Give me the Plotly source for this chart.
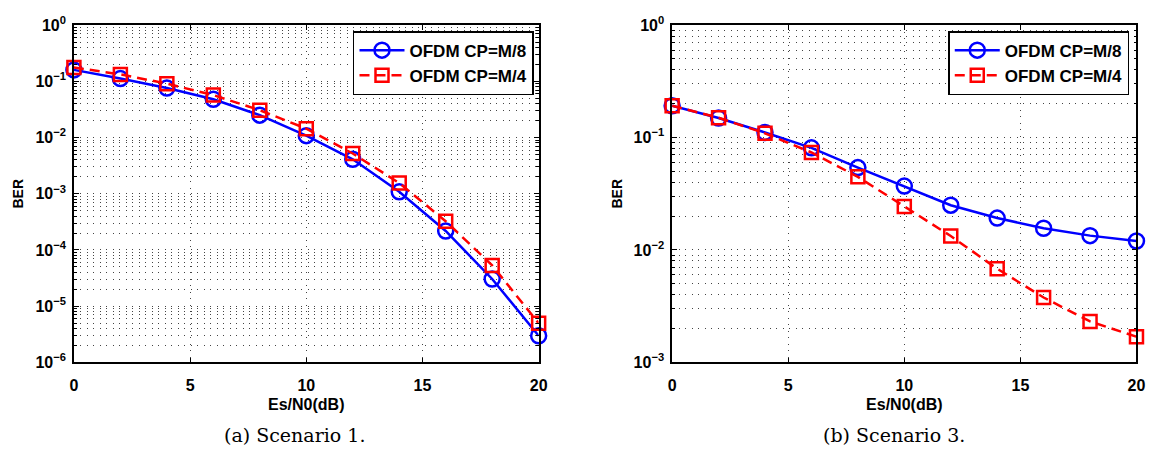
import plotly.graph_objects as go

# ---------------- data ----------------
snr_db = [0, 2, 4, 6, 8, 10, 12, 14, 16, 18, 20]

# (a) Scenario 1
s1_cp_m8 = [0.16, 0.112, 0.076, 0.048, 0.025, 0.0108, 0.0041, 0.00108, 2.17e-4, 3.04e-5, 2.97e-6]
s1_cp_m4 = [0.177, 0.133, 0.091, 0.057, 0.0306, 0.0144, 0.0052, 0.00155, 3.24e-4, 5.3e-5, 4.97e-6]

# (b) Scenario 3
s3_cp_m8 = [0.192, 0.149, 0.111, 0.081, 0.054, 0.037, 0.025, 0.0192, 0.0156, 0.0134, 0.0120]
s3_cp_m4 = [0.192, 0.150, 0.109, 0.0736, 0.0447, 0.0243, 0.0133, 0.0068, 0.00377, 0.00231, 0.00169]

series_names = ["OFDM CP=M/8", "OFDM CP=M/4"]
x_ticks = [0, 5, 10, 15, 20]
left_exps = [0, -1, -2, -3, -4, -5, -6]
right_exps = [0, -1, -2, -3]
captions = ["(a) Scenario 1.", "(b) Scenario 3."]
x_title = "Es/N0(dB)"
y_title = "BER"

# ---------------- styling ----------------
W, H = 1161, 459
SANS = "Liberation Sans"
BLUE = "rgb(0,0,255)"
RED = "rgb(255,0,0)"
GRID = "#444444"
GDASH = "1px,5.5px"


def px_x(p):
    return p / W


def px_y(p):
    return 1 - p / H


def exp_label(e):
    s = str(e).replace("-", "\u2212")
    return "10<sup>" + s + "</sup>"


def minor_vals(exps):
    lo, hi = min(exps), max(exps)
    vals = []
    for e in range(lo, hi):
        for k in range(2, 10):
            vals.append(k * 10.0 ** e)
    return vals


fig = go.Figure()

panels = [
    (s1_cp_m8, s1_cp_m4, "x", "y", "legend"),
    (s3_cp_m8, s3_cp_m4, "x2", "y2", "legend2"),
]
for blue_vals, red_vals, xa, ya, lg in panels:
    fig.add_trace(go.Scatter(
        x=snr_db, y=blue_vals, name=series_names[0], mode="lines+markers",
        xaxis=xa, yaxis=ya, legend=lg, cliponaxis=False,
        line=dict(color=BLUE, width=2.5),
        marker=dict(symbol="circle-open", size=15, color=BLUE, line=dict(width=2.5, color=BLUE)),
    ))
    fig.add_trace(go.Scatter(
        x=snr_db, y=red_vals, name=series_names[1], mode="lines+markers",
        xaxis=xa, yaxis=ya, legend=lg, cliponaxis=False,
        line=dict(color=RED, width=2.5, dash="10px,6px"),
        marker=dict(symbol="square-open", size=13, color=RED, line=dict(width=2.5, color=RED)),
    ))

tick_font = dict(family=SANS, size=16, color="black", weight="bold")
title_font = dict(family=SANS, size=16, color="black", weight="bold")
ytitle_font = dict(family=SANS, size=14, color="black", weight="bold")

common_x = dict(
    range=[0, 20], tickmode="array", tickvals=x_ticks, ticktext=[str(v) for v in x_ticks],
    showline=True, linecolor="black", linewidth=1.5, mirror="ticks",
    ticks="inside", ticklen=5, tickcolor="black", tickwidth=1,
    showgrid=True, gridcolor=GRID, gridwidth=1, griddash=GDASH,
    zeroline=False, tickfont=tick_font, ticklabelstandoff=8,
    title=dict(text=x_title, font=title_font, standoff=6),
)


def y_axis(exps, domain_anchor):
    vals = [10.0 ** e for e in exps]
    return dict(
        type="log", range=[min(exps), max(exps)],
        tickmode="array", tickvals=vals, ticktext=[exp_label(e) for e in exps],
        showline=True, linecolor="black", linewidth=1.5, mirror="ticks",
        ticks="inside", ticklen=5, tickcolor="black", tickwidth=1,
        showgrid=True, gridcolor=GRID, gridwidth=1, griddash=GDASH,
        minor=dict(tickmode="array", tickvals=minor_vals(exps), ticks="inside", ticklen=3,
                   tickcolor="black", showgrid=True, gridcolor=GRID, gridwidth=1, griddash=GDASH),
        zeroline=False, tickfont=tick_font, ticklabelstandoff=3,
        title=dict(text=y_title, font=ytitle_font, standoff=8),
        domain=[px_y(367.3), px_y(14.8)], anchor=domain_anchor,
    )


legend_common = dict(
    bgcolor="white", bordercolor="black", borderwidth=1.5,
    font=dict(family=SANS, size=17, color="black", weight="bold"),
    xanchor="right", yanchor="top", itemwidth=45, tracegroupgap=0,
)

fig.update_layout(
    width=W, height=H, margin=dict(l=0, r=0, t=0, b=0),
    paper_bgcolor="white", plot_bgcolor="white",
    xaxis=dict(common_x, domain=[px_x(70.7), px_x(540.7)], anchor="y"),
    xaxis2=dict(common_x, domain=[px_x(675.7), px_x(1145.3)], anchor="y2"),
    yaxis=y_axis(left_exps, "x"),
    yaxis2=y_axis(right_exps, "x2"),
    legend=dict(legend_common, x=px_x(536), y=px_y(21)),
    legend2=dict(legend_common, x=px_x(1138), y=px_y(21)),
    annotations=[
        dict(text=captions[0], x=px_x(294), y=px_y(443), xref="paper", yref="paper",
             showarrow=False, xanchor="center", yanchor="middle",
             font=dict(family="DejaVu Serif", size=19, color="black")),
        dict(text=captions[1], x=px_x(900), y=px_y(443), xref="paper", yref="paper",
             showarrow=False, xanchor="center", yanchor="middle",
             font=dict(family="DejaVu Serif", size=19, color="black")),
    ],
)

fig.write_html("out.html")
